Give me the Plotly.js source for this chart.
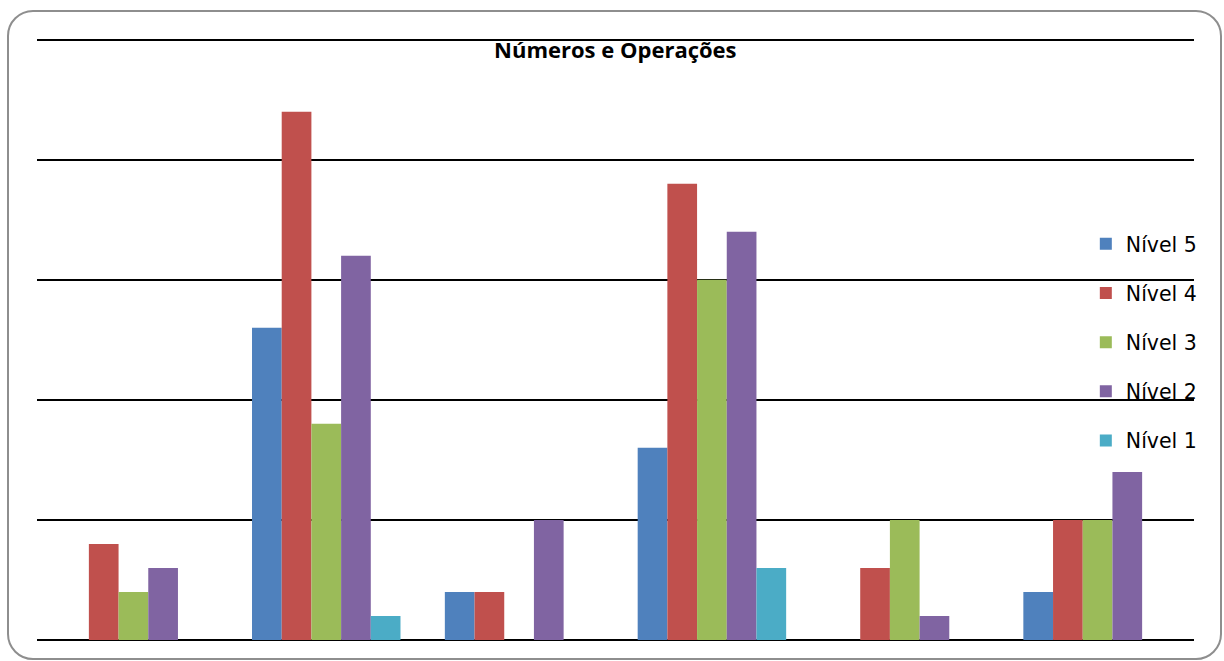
<!DOCTYPE html>
<html>
<head>
<meta charset="utf-8">
<script src="https://cdn.plot.ly/plotly-3.0.1.min.js"></script>
<style>
  html, body { margin: 0; padding: 0; background: #fff; }
  #wrap { position: relative; width: 1224px; height: 661px; overflow: hidden; }
  #chart { position: absolute; left: 0; top: 0; width: 1224px; height: 661px; }
  #frame { position: absolute; left: 7px; top: 10px; width: 1215px; height: 650px;
           box-sizing: border-box; border: 2px solid #8e8e8e; border-radius: 26px;
           pointer-events: none; }
</style>
</head>
<body>
<div id="wrap">
  <div id="chart"></div>
  <div id="frame"></div>
</div>
<script>
const categories = ["1", "2", "3", "4", "5", "6"];
const seriesNames = ["Nível 5", "Nível 4", "Nível 3", "Nível 2", "Nível 1"];
const nivel5 = [0, 13, 2, 8, 0, 2];
const nivel4 = [4, 22, 2, 19, 3, 5];
const nivel3 = [2, 9, 0, 15, 5, 5];
const nivel2 = [3, 16, 5, 17, 1, 7];
const nivel1 = [0, 1, 0, 3, 0, 0];
const colors = ["#4F81BD", "#C0504D", "#9BBB59", "#8064A2", "#4BACC6"];
const chartTitle = "Números e Operações";

const values = [nivel5, nivel4, nivel3, nivel2, nivel1];
const data = values.map((v, i) => ({
  type: "bar",
  name: seriesNames[i],
  x: categories,
  y: v,
  marker: { color: colors[i], line: { width: 0 } },
  legendgroup: "g" + i,
  hoverinfo: "none"
}));

const layout = {
  width: 1224,
  height: 661,
  paper_bgcolor: "rgba(0,0,0,0)",
  plot_bgcolor: "rgba(0,0,0,0)",
  margin: { l: 37, r: 30, t: 30, b: 21, pad: 0 },
  barmode: "group",
  bargap: 0.23,
  bargroupgap: 0,
  title: {
    text: "<b>" + chartTitle + "</b>",
    font: { family: "Open Sans, DejaVu Sans, sans-serif", size: 22, color: "#000" },
    x: 0.5027, xanchor: "center",
    y: 1 - 50 / 661, yanchor: "middle", yref: "container"
  },
  xaxis: {
    type: "category",
    showticklabels: false,
    showgrid: false,
    zeroline: false,
    showline: false,
    ticks: ""
  },
  yaxis: {
    range: [0, 25.4],
    dtick: 5,
    tick0: 0,
    showticklabels: false,
    ticks: "",
    showgrid: true,
    gridcolor: "#000",
    gridwidth: 2,
    zeroline: true,
    zerolinecolor: "#000",
    zerolinewidth: 2,
    showline: false
  },
  showlegend: true,
  legend: {
    x: 0.9065, xanchor: "left",
    y: 1 - (224 - 30) / 610, yanchor: "top",
    bgcolor: "rgba(0,0,0,0)",
    borderwidth: 0,
    traceorder: "grouped",
    tracegroupgap: 19.5,
    font: { family: "DejaVu Sans, sans-serif", size: 20.5, color: "#000" }
  }
};

Plotly.newPlot("chart", data, layout, { staticPlot: true, displayModeBar: false });
</script>
</body>
</html>
